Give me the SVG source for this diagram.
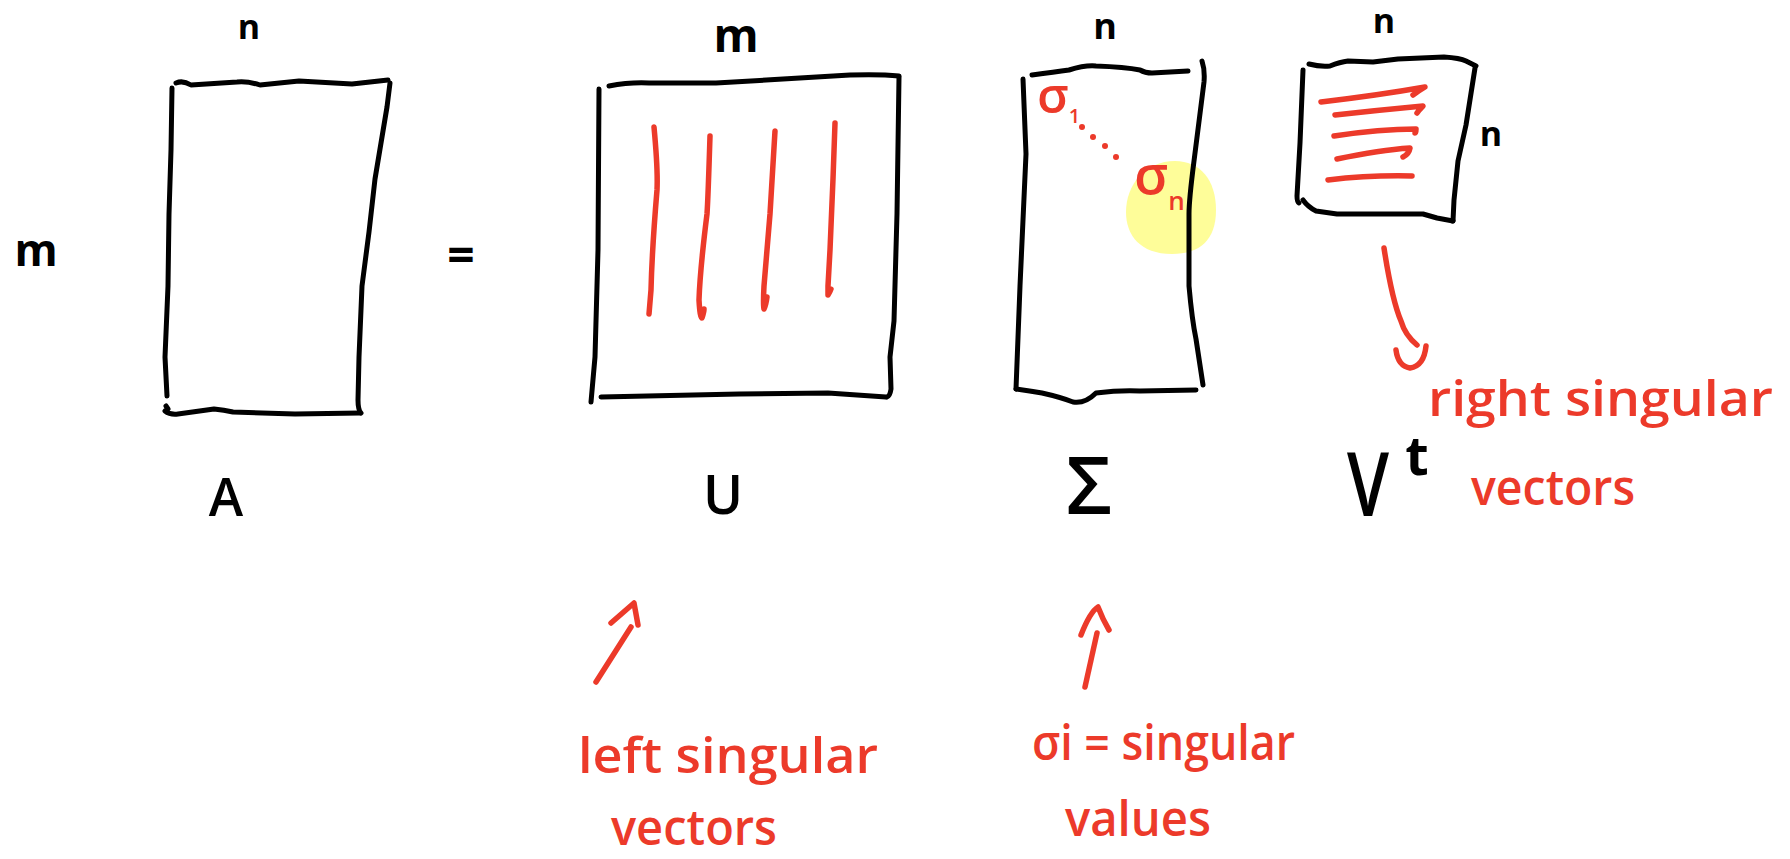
<svg xmlns="http://www.w3.org/2000/svg" width="1790" height="859" viewBox="0 0 1790 859">
<style>
.ink{fill:none;stroke:#000;stroke-width:5;stroke-linecap:round;stroke-linejoin:round}
.red{fill:none;stroke:#EC3A2A;stroke-width:5.5;stroke-linecap:round;stroke-linejoin:round}
.lbl{font-family:"Open Sans","Liberation Sans",sans-serif;fill:#000;font-weight:700;text-anchor:middle}
.big{font-weight:600}
.rlbl{font-family:"Open Sans","Liberation Sans",sans-serif;fill:#EC3A2A;font-weight:600}
.dot{fill:#EC3A2A}
</style>
<rect width="1790" height="859" fill="#fff"/>

<g id="matrix-A">
<path class="ink" d="M176,83 Q183,80 191,85 L237,82 Q248,81 260,85 L299,81 L352,84 L388,80"/>
<path class="ink" d="M172,88 L171,150 L169,214 L168,286 L165,357 L167,396"/>
<path class="ink" d="M166,406 L168,409"/>
<path class="ink" d="M165,411 Q170,415 178,414 L214,409 Q224,410 233,412 L295,414 L360,413"/>
<path class="ink" d="M390,83 L387,107 L381,143 L375,179 L369,232 L362,286 L359,357 L358,400 Q358,410 361,413"/>
<text class="lbl" x="249" y="39" font-size="34">n</text>
<text class="lbl" x="36" y="266" font-size="44">m</text>
<text class="lbl big" x="226" y="516" font-size="52">A</text>
</g>

<g id="equals">
<text class="lbl" x="461" y="272" font-size="48">=</text>
</g>

<g id="matrix-U">
<path class="ink" d="M609,86 Q630,82 649,83 L716,83 L783,79 L850,75 Q880,74 899,76"/>
<path class="ink" d="M599,89 L598,250 L595,357 L591,402"/>
<path class="ink" d="M899,77 L897,214 L894,321 L890,357 L891,389 Q890,396 887,397"/>
<path class="ink" d="M601,397 L739,394 L828,393 L886,397"/>
<path class="red" d="M654,127 Q658,170 657,190 Q652,250 651,290 L649,314"/>
<path class="red" d="M710,136 Q708,200 707,214 Q700,270 699,300 Q700,318 702,318 Q704,312 704,309"/>
<path class="red" d="M775,131 L770,214 L764,286 Q763,305 764,309 Q766,305 767,297"/>
<path class="red" d="M835,123 L833,179 L830,250 L828,286 L828,295 Q830,292 831,289"/>
<text class="lbl" x="736" y="52" font-size="46">m</text>
<text class="lbl big" x="723" y="514" font-size="54">U</text>
</g>

<g id="matrix-Sigma">
<path fill="#FEFD99" d="M1175,161 C1200,161 1216,180 1216,210 C1216,240 1200,254 1172,254 C1140,254 1126,235 1126,212 C1126,185 1145,161 1175,161 Z"/>
<path class="ink" d="M1032,75 Q1055,72 1069,70 Q1085,65 1096,66 Q1125,67 1140,70 Q1145,73 1152,73 L1188,71"/>
<path class="ink" d="M1023,79 L1026,154 L1020,286 L1016,389"/>
<path class="ink" d="M1202,61 Q1205,70 1204,82 L1194,161 Q1189,200 1189,214 L1189,286 Q1192,320 1196,339 L1203,385"/>
<path class="ink" d="M1016,389 Q1030,391 1042,393 Q1060,397 1073,402 Q1085,404 1096,393 Q1120,390 1140,391 L1196,390"/>
<text class="rlbl" x="1037" y="113" font-size="50">σ<tspan font-size="20" dy="10">1</tspan></text>
<circle class="dot" cx="1082" cy="127" r="3"/>
<circle class="dot" cx="1093" cy="137" r="3"/>
<circle class="dot" cx="1105" cy="146" r="3"/>
<circle class="dot" cx="1116" cy="157" r="3"/>
<text class="rlbl" x="1134" y="194" font-size="54">σ<tspan font-size="26" dy="16">n</tspan></text>
<text class="lbl" x="1105" y="39" font-size="36">n</text>
<text class="lbl big" x="1089" y="514" font-size="80">Σ</text>
</g>

<g id="matrix-Vt">
<path class="ink" d="M1309,64 Q1320,67 1330,66 Q1340,62 1348,61 L1373,62 L1398,59 L1444,57 Q1460,58 1466,61 L1476,66"/>
<path class="ink" d="M1303,70 L1300,143 L1297,196 Q1297,202 1299,203"/>
<path class="ink" d="M1303,200 Q1308,207 1316,211 L1337,214 L1391,214 L1423,214 Q1430,216 1437,218 L1453,221"/>
<path class="ink" d="M1475,68 L1466,125 L1458,161 L1454,200 L1453,221"/>
<path class="red" d="M1321,102 Q1380,95 1425,87 Q1420,90 1413,95"/>
<path class="red" d="M1335,115 Q1380,110 1423,106 Q1419,110 1417,113"/>
<path class="red" d="M1334,136 Q1380,129 1416,129 Q1416,133 1415,133"/>
<path class="red" d="M1337,159 Q1380,150 1410,148 Q1409,154 1403,157"/>
<path class="red" d="M1328,180 Q1370,175 1412,176"/>
<text class="lbl" x="1384" y="33" font-size="34">n</text>
<text class="lbl" x="1491" y="146" font-size="34">n</text>
<text class="lbl big" x="1368" y="516" font-size="88" textLength="42" lengthAdjust="spacingAndGlyphs">V</text>
<text class="lbl" x="1417" y="475" font-size="54">t</text>
</g>

<g id="connectors">
<path class="red" d="M596,682 L631,627"/>
<path class="red" d="M611,623 L634,603 L638,625"/>
<path class="red" d="M1085,687 L1097,633"/>
<path class="red" d="M1081,635 Q1090,612 1098,607 Q1103,620 1109,630"/>
<path class="red" d="M1384,248 Q1392,300 1401,321 Q1405,335 1417,345"/>
<path class="red" d="M1396,350 Q1398,366 1410,368 Q1424,366 1426,346"/>
</g>

<g id="note-left">
<text class="rlbl" x="578" y="773" font-size="48" textLength="300" lengthAdjust="spacingAndGlyphs">left singular</text>
<text class="rlbl" x="611" y="845" font-size="48" textLength="166" lengthAdjust="spacingAndGlyphs">vectors</text>
</g>
<g id="note-middle">
<text class="rlbl" x="1032" y="760" font-size="48" textLength="263" lengthAdjust="spacingAndGlyphs">σi = singular</text>
<text class="rlbl" x="1065" y="836" font-size="48" textLength="146" lengthAdjust="spacingAndGlyphs">values</text>
</g>
<g id="note-right">
<text class="rlbl" x="1428" y="416" font-size="48" textLength="345" lengthAdjust="spacingAndGlyphs">right singular</text>
<text class="rlbl" x="1471" y="505" font-size="48" textLength="164" lengthAdjust="spacingAndGlyphs">vectors</text>
</g>
</svg>
